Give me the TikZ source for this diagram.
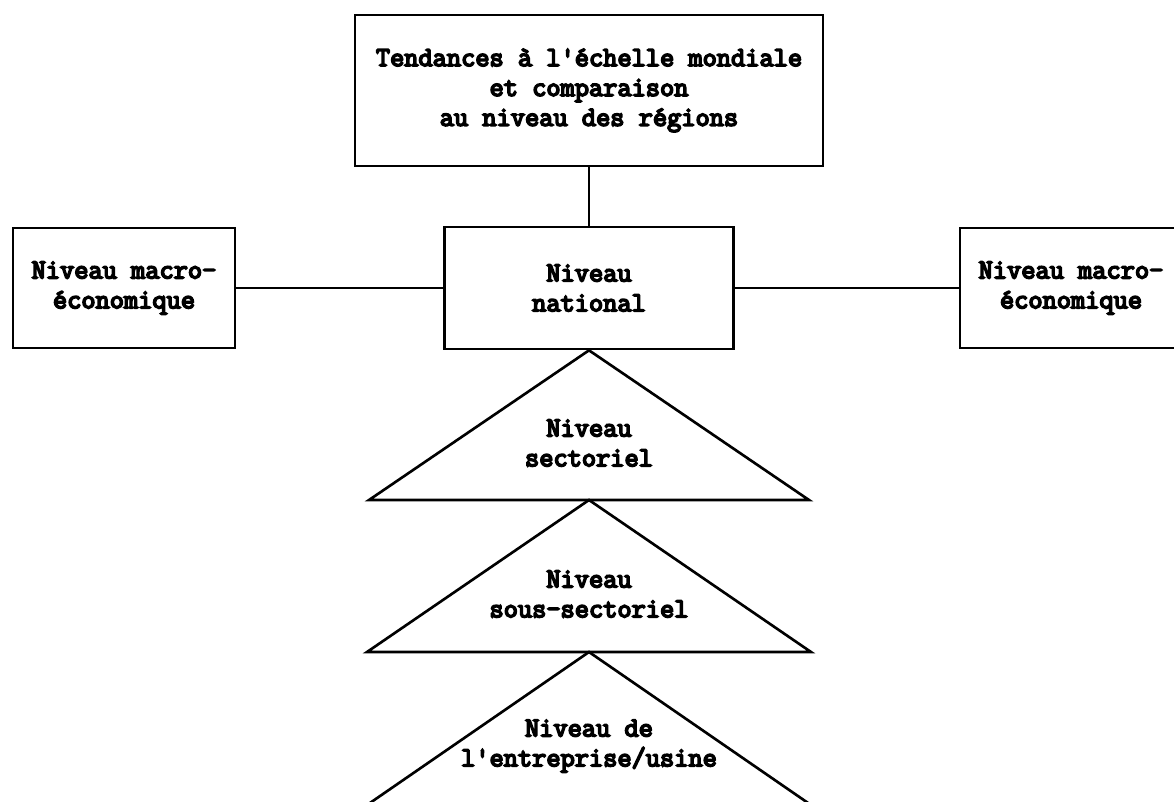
\documentclass[tikz,border=0pt]{standalone}
\usepackage{fontspec}
\newfontfamily\typebold{Latin Modern Mono}[FakeBold=6]
\begin{document}
\begin{tikzpicture}[
	txt/.style={align=center,inner sep=0pt,font=\typebold\fontsize{15.7}{17}\selectfont},
	box/.style={txt,draw,line width=1.5pt},
	lnk/.style={line width=1.5pt}]
	\useasboundingbox (0,0) rectangle (23.48,-16.02);
	\node[box,minimum width=9.36cm,minimum height=3.02cm](world) at (11.78,-1.81){Tendances à l'échelle mondiale\\et comparaison\\au niveau des régions};
	\node[box,minimum width=5.78cm,minimum height=2.44cm](nat) at (11.78,-5.76){Niveau\\national};
	\node[box,minimum width=4.44cm,minimum height=2.4cm](macroL) at (2.48,-5.76){Niveau macro-\\économique};
	\node[box,minimum width=4.44cm,minimum height=2.4cm](macroR) at (21.42,-5.76){Niveau macro-\\économique};
	\draw[lnk](world)--(nat);
	\draw[lnk](macroL)--(nat);
	\draw[lnk](nat)--(macroR);
	% les trois triangles
	\coordinate (apexA) at (nat.south);
	\coordinate (apexB) at (11.78,-10);
	\coordinate (apexC) at (11.78,-13.04);
	\draw[lnk](apexA)--(7.38,-10)--(16.18,-10)--cycle;
	\draw[lnk](apexB)--(7.34,-13.04)--(16.22,-13.04)--cycle;
	\draw[lnk](apexC)--(7.34,-16.1)--(16.22,-16.1)--cycle;
	\node[txt](sect) at (11.78,-8.86){Niveau\\sectoriel};
	\node[txt](soussect) at (11.78,-11.88){Niveau\\sous-sectoriel};
	\node[txt](usine) at (11.78,-14.92){Niveau de\\l'entreprise/usine};
\end{tikzpicture}
\end{document}
